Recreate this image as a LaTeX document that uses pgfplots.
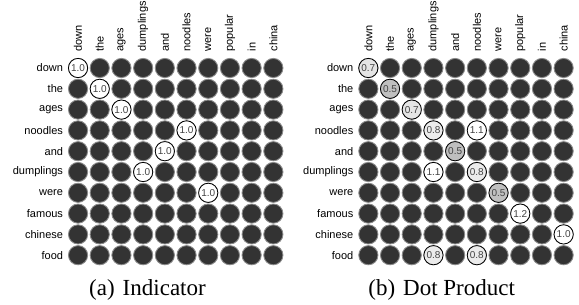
\documentclass[border=0pt]{standalone}
\usepackage{fontspec}
\setmainfont{Liberation Serif}
\setsansfont{Liberation Sans}
\usepackage{pgfplots}
\usepackage{pgfplotstable}
\pgfplotsset{compat=1.18}
\definecolor{darkc}{HTML}{333333}
\definecolor{darkedge}{HTML}{8A8A8A}
\definecolor{valtext}{HTML}{444444}

% full grid (value 0 cells drawn dark; highlighted cells drawn on top)
\pgfplotstableread[row sep=\\]{
x y\\
0 0\\1 0\\2 0\\3 0\\4 0\\5 0\\6 0\\7 0\\8 0\\9 0\\
0 1\\1 1\\2 1\\3 1\\4 1\\5 1\\6 1\\7 1\\8 1\\9 1\\
0 2\\1 2\\2 2\\3 2\\4 2\\5 2\\6 2\\7 2\\8 2\\9 2\\
0 3\\1 3\\2 3\\3 3\\4 3\\5 3\\6 3\\7 3\\8 3\\9 3\\
0 4\\1 4\\2 4\\3 4\\4 4\\5 4\\6 4\\7 4\\8 4\\9 4\\
0 5\\1 5\\2 5\\3 5\\4 5\\5 5\\6 5\\7 5\\8 5\\9 5\\
0 6\\1 6\\2 6\\3 6\\4 6\\5 6\\6 6\\7 6\\8 6\\9 6\\
0 7\\1 7\\2 7\\3 7\\4 7\\5 7\\6 7\\7 7\\8 7\\9 7\\
0 8\\1 8\\2 8\\3 8\\4 8\\5 8\\6 8\\7 8\\8 8\\9 8\\
0 9\\1 9\\2 9\\3 9\\4 9\\5 9\\6 9\\7 9\\8 9\\9 9\\
}\gridtab

% (a) Indicator
\pgfplotstableread{
x y v
0 0 1.0
1 1 1.0
2 2 1.0
5 3 1.0
4 4 1.0
3 5 1.0
6 6 1.0
}\indtab

% (b) Dot product, grouped by shade
\pgfplotstableread{
x y v
1 1 0.5
4 4 0.5
6 6 0.5
}\dpfive
\pgfplotstableread{
x y v
0 0 0.7
2 2 0.7
}\dpseven
\pgfplotstableread{
x y v
3 3 0.8
5 5 0.8
3 9 0.8
5 9 0.8
}\dpeight
\pgfplotstableread{
x y v
5 3 1.1
3 5 1.1
7 7 1.2
9 8 1.0
}\dpone

\pgfplotsset{
  cellgrid/.style={
    scale only axis, width=217pt, height=208pt,
    xmin=-0.5, xmax=9.5, ymin=-0.5, ymax=9.5,
    y dir=reverse,
    axis line style={draw=none},
    tick style={draw=none},
    xtick={0,...,9}, ytick={0,...,9},
    xticklabels={down,the,ages,dumplings,and,noodles,were,popular,in,china},
    yticklabels={down,the,ages,noodles,and,dumplings,were,famous,chinese,food},
    xticklabel pos=upper,
    xticklabel style={font=\sffamily\fontsize{11}{11}\selectfont, rotate=90, anchor=west, inner sep=0pt, xshift=6pt},
    yticklabel style={font=\sffamily\fontsize{11}{11}\selectfont, anchor=east, inner sep=0pt, xshift=-4pt},
    clip=false,
  },
  darkcell/.style={only marks, mark=*, mark size=9.6pt,
    mark options={fill=darkc, draw=darkedge, line width=0.9pt}},
  valcell/.style={only marks, mark=*, mark size=9.6pt,
    mark options={fill=#1, draw=black, line width=0.8pt},
    point meta=explicit symbolic,
    nodes near coords,
    every node near coord/.append style={anchor=center, font=\sffamily\fontsize{10}{10}\selectfont, text=valtext, inner sep=0pt}},
}

\begin{document}
\begin{tikzpicture}
\path[use as bounding box] (0,0) rectangle (579pt,305pt);

\begin{axis}[cellgrid, at={(67.2pt,39.4pt)}, anchor=south west]
  \addplot[darkcell] table[x=x, y=y] {\gridtab};
  \addplot[valcell=white] table[x=x, y=y, meta=v] {\indtab};
\end{axis}

\begin{axis}[cellgrid, at={(357.5pt,39.4pt)}, anchor=south west]
  \addplot[darkcell] table[x=x, y=y] {\gridtab};
  \addplot[valcell=black!25] table[x=x, y=y, meta=v] {\dpfive};
  \addplot[valcell=black!10] table[x=x, y=y, meta=v] {\dpseven};
  \addplot[valcell=black!8] table[x=x, y=y, meta=v] {\dpeight};
  \addplot[valcell=white] table[x=x, y=y, meta=v] {\dpone};
\end{axis}

\node[anchor=base, font=\fontsize{23}{23}\selectfont, inner sep=0pt] at (147.5pt,9pt) {(a)\hspace{8pt}Indicator};
\node[anchor=base, font=\fontsize{23}{23}\selectfont, inner sep=0pt] at (441.7pt,9pt) {(b)\hspace{8pt}Dot Product};
\end{tikzpicture}
\end{document}
